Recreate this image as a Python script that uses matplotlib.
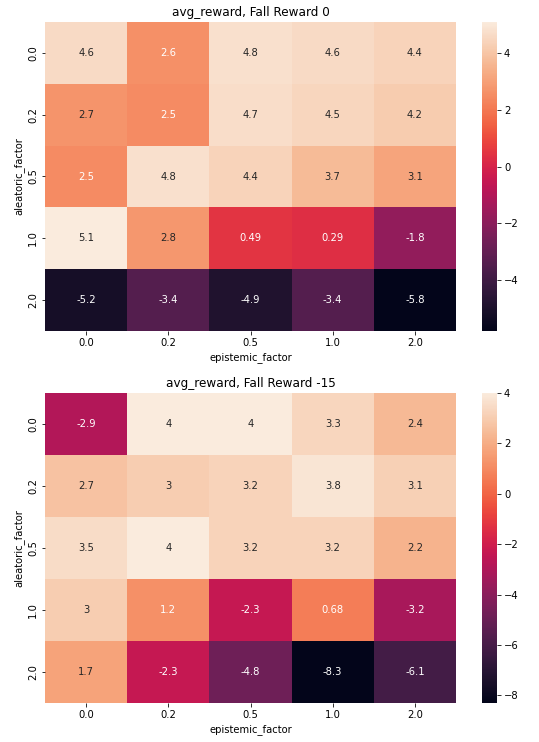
import matplotlib
matplotlib.use("Agg")
import matplotlib.pyplot as plt
import seaborn as sns
import numpy as np
import pandas as pd

epistemic = ["0.0", "0.2", "0.5", "1.0", "2.0"]
aleatoric = ["0.0", "0.2", "0.5", "1.0", "2.0"]

reward_fall0 = [
    [4.6, 2.6, 4.8, 4.6, 4.4],
    [2.7, 2.5, 4.7, 4.5, 4.2],
    [2.5, 4.8, 4.4, 3.7, 3.1],
    [5.1, 2.8, 0.49, 0.29, -1.8],
    [-5.2, -3.4, -4.9, -3.4, -5.8],
]
reward_fall15 = [
    [-2.9, 4.0, 4.0, 3.3, 2.4],
    [2.7, 3.0, 3.2, 3.8, 3.1],
    [3.5, 4.0, 3.2, 3.2, 2.2],
    [3.0, 1.2, -2.3, 0.68, -3.2],
    [1.7, -2.3, -4.8, -8.3, -6.1],
]
titles = ["avg_reward, Fall Reward 0", "avg_reward, Fall Reward -15"]

W, H = 539, 742
fig = plt.figure(figsize=(W / 72, H / 72), dpi=72)

def box(x0, y0, x1, y1):
    return [x0 / W, 1 - y1 / H, (x1 - x0) / W, (y1 - y0) / H]

layouts = [
    (box(45, 22, 456, 331), box(482, 22, 497, 331)),
    (box(45, 393, 456, 703), box(482, 393, 497, 703)),
]

for data, title, (axpos, cbpos) in zip([reward_fall0, reward_fall15], titles, layouts):
    df = pd.DataFrame(data, index=aleatoric, columns=epistemic)
    df.index.name = "aleatoric_factor"
    df.columns.name = "epistemic_factor"
    ax = fig.add_axes(axpos)
    cax = fig.add_axes(cbpos)
    sns.heatmap(df, annot=True, ax=ax, cbar_ax=cax)
    ax.set_title(title, fontsize=12)
    ax.tick_params(labelsize=10)
    cax.tick_params(labelsize=10)

fig.savefig("out.png", dpi=72)
